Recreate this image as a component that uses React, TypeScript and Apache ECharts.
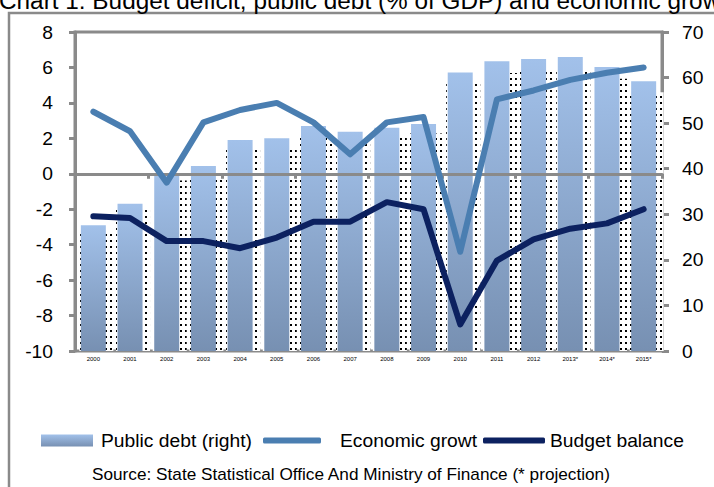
import React, { useEffect, useRef } from "react";
import * as echarts from "echarts";

const categories = ["2000", "2001", "2002", "2003", "2004", "2005", "2006", "2007", "2008", "2009", "2010", "2011", "2012", "2013*", "2014*", "2015*"];
const publicDebt = [27.6, 32.3, 39.0, 40.6, 46.3, 46.7, 49.4, 48.1, 49.0, 49.8, 61.1, 63.6, 64.1, 64.5, 62.3, 59.2];
const economicGrowth = [3.5, 2.4, -0.5, 2.9, 3.6, 4.0, 2.9, 1.1, 2.9, 3.2, -4.4, 4.2, 4.7, 5.3, 5.7, 6.0];
const budgetBalance = [-2.4, -2.5, -3.8, -3.8, -4.2, -3.6, -2.7, -2.7, -1.6, -2.0, -8.5, -4.9, -3.7, -3.1, -2.8, -2.0];

const titleText = "Chart 1: Budget deficit, public debt (% of GDP) and economic growth";
const sourceText = "Source: State Statistical Office And Ministry of Finance (* projection)";

function hasFont(name: string): boolean {
  try {
    const ctx = document.createElement("canvas").getContext("2d");
    if (!ctx) return false;
    const s = "Budget balance 0123456789";
    ctx.font = "40px monospace";
    const a = ctx.measureText(s).width;
    ctx.font = `40px "${name}", monospace`;
    const b = ctx.measureText(s).width;
    return Math.abs(a - b) > 0.5;
  } catch (e) {
    return false;
  }
}

export default function App() {
  const ref = useRef<HTMLDivElement>(null);
  useEffect(() => {
    if (!ref.current) return;
    const narrow = hasFont("Liberation Sans Narrow");
    const F = narrow ? '"Liberation Sans Narrow", "Liberation Sans", Arial, sans-serif' : '"Liberation Sans", Arial, sans-serif';
    const k = narrow ? 1 : 0.82;
    const axisFont = 23.5 * k;
    const legendFont = 23.5 * k;
    const sourceFont = 21 * k;
    const titleFont = 29.7 * k;
    const gray = "#8a8a8a";

    const chart = echarts.init(ref.current, null, { renderer: "svg" });
    const barColor = new echarts.graphic.LinearGradient(0, 0, 0, 1, [
      { offset: 0, color: "#a2c1ea" },
      { offset: 1, color: "#7790b2" },
    ]);
    const legendText = (pad: number) => ({
      fontFamily: F,
      fontSize: legendFont,
      color: "#000",
      padding: [0, 0, 0, pad],
    });
    const option: any = {
      animation: false,
      backgroundColor: "#fff",
      textStyle: { fontFamily: F },
      grid: [
        { left: 75, right: 52, top: 32, bottom: 136, show: true, borderColor: gray, borderWidth: 3, backgroundColor: "transparent" },
        { left: 78, right: 49, top: 32, bottom: 136, show: false },
      ],
      legend: [
        {
          data: ["Public debt (right)"], left: 41, top: 431, padding: 0,
          itemWidth: 52, itemHeight: 12, icon: "rect", textStyle: legendText(3),
        },
        {
          data: ["Economic growt"], left: 263, top: 431, padding: 0,
          itemWidth: 58, itemHeight: 6, icon: "roundRect", textStyle: legendText(14),
        },
        {
          data: ["Budget balance"], left: 483, top: 431, padding: 0,
          itemWidth: 62, itemHeight: 6, icon: "roundRect", textStyle: legendText(0),
        },
      ],
      xAxis: [
        {
          type: "category", data: categories, gridIndex: 0, position: "bottom",
          axisLine: { show: false, onZero: false },
          axisTick: { show: false },
          axisLabel: { fontSize: 6, color: "#000", margin: 5, fontFamily: F, interval: 0 },
          splitLine: { show: false },
        },
        {
          type: "category", data: categories, gridIndex: 0, position: "bottom", z: 3,
          axisLine: { show: true, onZero: true, onZeroAxisIndex: 0, lineStyle: { color: gray, width: 3 } },
          axisTick: { show: true, length: 5, lineStyle: { color: gray, width: 3 } },
          axisLabel: { show: false },
          splitLine: { show: false },
        },
        {
          type: "category", data: categories, gridIndex: 1, show: false,
        },
      ],
      yAxis: [
        {
          type: "value", gridIndex: 0, position: "left", min: -10, max: 8, interval: 2,
          axisLine: { show: true, lineStyle: { color: gray, width: 3 } },
          axisTick: { show: true, length: 6, lineStyle: { color: gray, width: 3 } },
          axisLabel: { fontSize: axisFont, color: "#000", margin: 22, fontFamily: F },
          splitLine: { show: false },
        },
        {
          type: "value", gridIndex: 0, position: "right", min: 0, max: 70, interval: 10,
          axisLine: { show: true, lineStyle: { color: gray, width: 3 } },
          axisTick: { show: true, length: 7, lineStyle: { color: gray, width: 3 } },
          axisLabel: { fontSize: axisFont, color: "#000", margin: 20, fontFamily: F },
          splitLine: { show: false },
        },
        {
          type: "value", gridIndex: 1, min: 0, max: 73, show: false, splitLine: { show: false },
        },
      ],
      series: [
        {
          name: "shadow", type: "bar", xAxisIndex: 2, yAxisIndex: 2, data: publicDebt,
          barWidth: 34, z: 1, silent: true,
          itemStyle: {
            color: "#fff",
            decal: { symbol: "rect", symbolSize: 1, color: "#000", dashArrayX: [1.4, 2.6], dashArrayY: [1.4, 3.4], rotation: 0 },
          },
        },
        {
          name: "Public debt (right)", type: "bar", xAxisIndex: 0, yAxisIndex: 1, data: publicDebt,
          barWidth: 25, z: 2, itemStyle: { color: barColor },
        },
        {
          name: "Economic growt", type: "line", xAxisIndex: 0, yAxisIndex: 0, data: economicGrowth,
          symbol: "none", z: 5, itemStyle: { color: "#4a7eb1" },
          lineStyle: { color: "#4a7eb1", width: 6, join: "round", cap: "round" },
        },
        {
          name: "Budget balance", type: "line", xAxisIndex: 0, yAxisIndex: 0, data: budgetBalance,
          symbol: "none", z: 6, itemStyle: { color: "#0c2160" },
          lineStyle: { color: "#0c2160", width: 6, join: "round", cap: "round" },
        },
      ],
      graphic: [
        {
          type: "rect", silent: true, z: -1,
          shape: { x: 9, y: 13, width: 800, height: 600 },
          style: { fill: "none", stroke: gray, lineWidth: 2.5 },
        },
        {
          type: "text", x: -1, y: 0, silent: true,
          style: { text: titleText, font: `${titleFont}px ${F}`, fill: "#000", verticalAlign: "middle", align: "left" },
        },
        {
          type: "text", x: 92, y: 474, silent: true,
          style: { text: sourceText, font: `${sourceFont}px ${F}`, fill: "#000", verticalAlign: "middle", align: "left" },
        },
      ],
    };
    chart.setOption(option);
    return () => chart.dispose();
  }, []);
  return <div ref={ref} style={{ position: "absolute", left: 0, top: 0, width: 714, height: 487 }} />;
}
